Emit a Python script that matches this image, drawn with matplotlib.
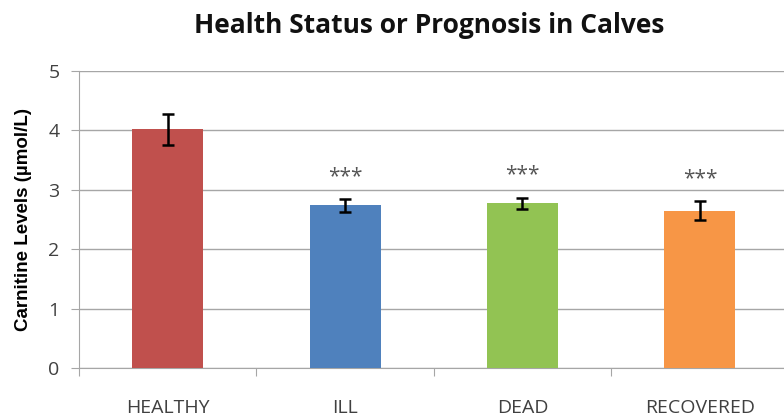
import matplotlib
matplotlib.use("Agg")
import matplotlib.pyplot as plt
import numpy as np

categories = ["HEALTHY", "ILL", "DEAD", "RECOVERED"]
values = [4.02, 2.74, 2.77, 2.65]
errors = [0.26, 0.11, 0.10, 0.16]
stars = ["", "***", "***", "***"]
colors = ["#C0504D", "#4F81BD", "#92C353", "#F79646"]
yticks = [0, 1, 2, 3, 4, 5]

plt.rcParams['font.family'] = ['Open Sans', 'DejaVu Sans']

fig = plt.figure(figsize=(7.84, 4.17), dpi=100)
ax = fig.add_axes([0.1008, 0.1175, 0.905, 0.7122])

x = np.arange(len(categories))
ax.bar(x, values, width=0.4, color=colors, zorder=3)
ax.errorbar(x, values, yerr=errors, fmt='none', ecolor='black', elinewidth=1.8,
            capsize=4.5, capthick=1.8, zorder=4)
for xi, v, e, s in zip(x, values, errors, stars):
    if s:
        ax.text(xi, v + e + 0.2, s, ha='center', va='bottom', fontsize=15,
                color='#555555')

ax.set_xlim(-0.5, len(categories) - 0.5)
ax.set_ylim(0, 5)
ax.set_yticks(yticks)
ax.yaxis.grid(True, color='#A6A6A6', linewidth=1.0, zorder=0)
ax.set_axisbelow(True)
for sp in ['top', 'right']:
    ax.spines[sp].set_visible(False)
ax.spines['left'].set_color('#A6A6A6')
ax.spines['bottom'].set_color('#A6A6A6')
ax.tick_params(axis='y', colors='#A6A6A6', length=6, labelcolor='#404040', labelsize=14, pad=8)
ax.set_xticks(np.arange(len(categories) + 1) - 0.5)
ax.set_xticklabels([])
ax.set_xticks(x, minor=True)
ax.set_xticklabels(categories, minor=True)
ax.tick_params(axis='x', which='major', colors='#A6A6A6', length=6)
ax.tick_params(axis='x', which='minor', length=0, labelcolor='#404040', labelsize=14, pad=22)

ax.set_ylabel("Carnitine Levels (µmol/L)", fontsize=13.5, fontweight='bold', labelpad=12,
              family=['Liberation Sans', 'DejaVu Sans'])
fig.text(0.547, 0.94, "Health Status or Prognosis in Calves", ha='center', va='center',
         fontsize=19, fontweight='bold', color='#111111')

fig.savefig("out.png", dpi=100)
